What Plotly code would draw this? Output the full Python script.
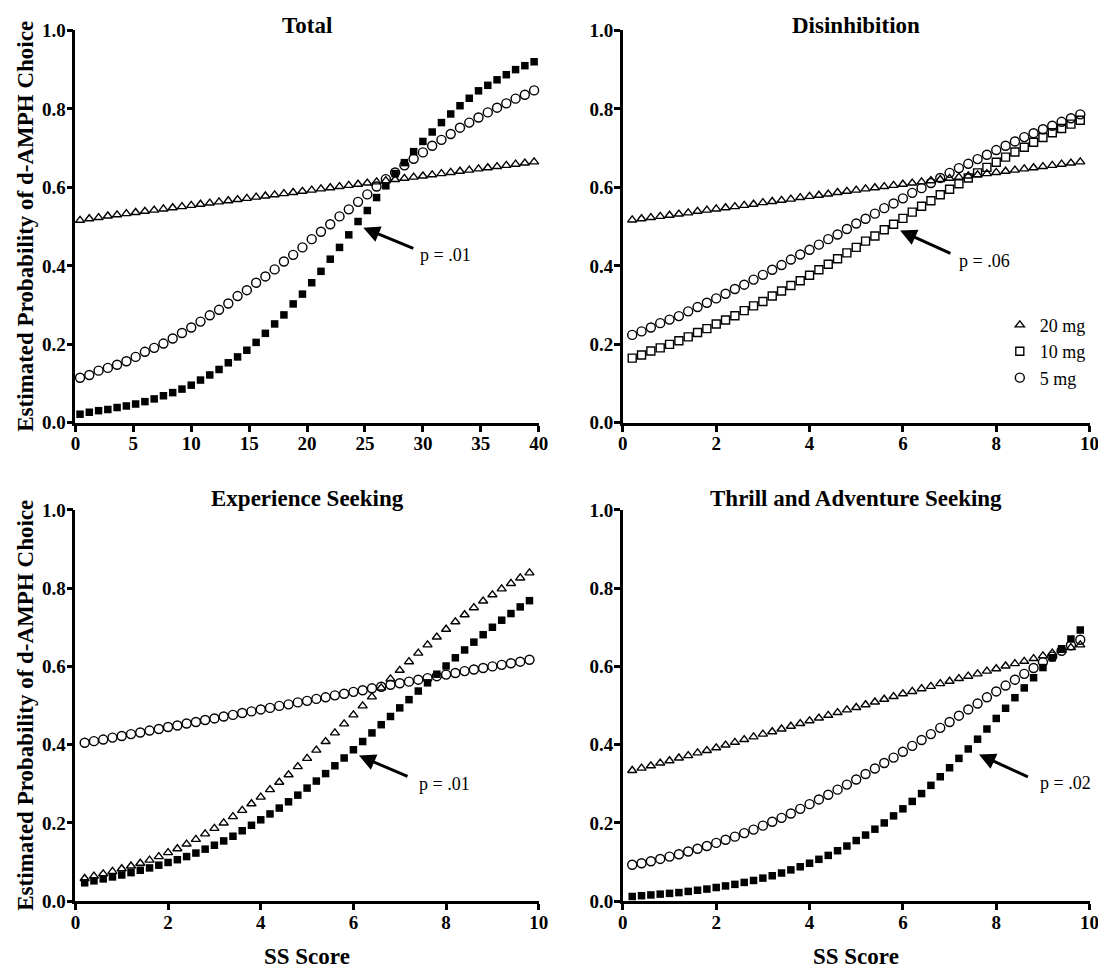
import plotly.graph_objects as go

# ---------------- data ----------------
x_total = [0.4, 1.2, 2.0, 2.8, 3.6, 4.4, 5.2, 6.0, 6.8, 7.6, 8.4, 9.2, 10.0, 10.8, 11.6, 12.4, 13.2,
           14.0, 14.8, 15.6, 16.4, 17.2, 18.0, 18.8, 19.6, 20.4, 21.2, 22.0, 22.8, 23.6, 24.4, 25.2,
           26.0, 26.8, 27.6, 28.4, 29.2, 30.0, 30.8, 31.6, 32.4, 33.2, 34.0, 34.8, 35.6, 36.4, 37.2,
           38.0, 38.8, 39.6]
total_20 = [0.516, 0.520, 0.523, 0.527, 0.530, 0.533, 0.536, 0.539, 0.542, 0.545, 0.548, 0.551, 0.554,
            0.557, 0.560, 0.563, 0.566, 0.569, 0.572, 0.575, 0.578, 0.581, 0.584, 0.587, 0.590, 0.593,
            0.596, 0.599, 0.602, 0.605, 0.608, 0.611, 0.614, 0.617, 0.620, 0.623, 0.626, 0.629, 0.632,
            0.635, 0.638, 0.641, 0.644, 0.647, 0.650, 0.653, 0.656, 0.659, 0.662, 0.665]
total_10 = [0.022, 0.027, 0.031, 0.034, 0.039, 0.043, 0.048, 0.054, 0.061, 0.069, 0.077, 0.086, 0.096,
            0.109, 0.122, 0.136, 0.153, 0.168, 0.185, 0.205, 0.228, 0.252, 0.275, 0.303, 0.328, 0.357,
            0.386, 0.417, 0.447, 0.479, 0.513, 0.541, 0.574, 0.604, 0.635, 0.663, 0.691, 0.717, 0.741,
            0.765, 0.787, 0.808, 0.827, 0.846, 0.860, 0.874, 0.887, 0.900, 0.910, 0.920]
total_5 = [0.115, 0.122, 0.133, 0.140, 0.148, 0.157, 0.168, 0.181, 0.191, 0.202, 0.215, 0.229, 0.243,
           0.258, 0.274, 0.288, 0.304, 0.323, 0.338, 0.357, 0.373, 0.391, 0.411, 0.428, 0.447, 0.468,
           0.487, 0.506, 0.526, 0.544, 0.563, 0.582, 0.602, 0.621, 0.638, 0.656, 0.673, 0.689, 0.706,
           0.721, 0.736, 0.752, 0.765, 0.778, 0.791, 0.803, 0.814, 0.826, 0.836, 0.847]

x_sub = [0.2, 0.4, 0.6, 0.8, 1.0, 1.2, 1.4, 1.6, 1.8, 2.0, 2.2, 2.4, 2.6, 2.8, 3.0, 3.2, 3.4, 3.6, 3.8,
         4.0, 4.2, 4.4, 4.6, 4.8, 5.0, 5.2, 5.4, 5.6, 5.8, 6.0, 6.2, 6.4, 6.6, 6.8, 7.0, 7.2, 7.4, 7.6,
         7.8, 8.0, 8.2, 8.4, 8.6, 8.8, 9.0, 9.2, 9.4, 9.6, 9.8]

dis_20 = [0.517, 0.520, 0.523, 0.526, 0.529, 0.532, 0.535, 0.539, 0.542, 0.545, 0.548, 0.551, 0.554,
          0.557, 0.561, 0.564, 0.567, 0.570, 0.574, 0.577, 0.580, 0.583, 0.587, 0.590, 0.593, 0.596,
          0.599, 0.602, 0.605, 0.608, 0.611, 0.614, 0.617, 0.620, 0.623, 0.626, 0.629, 0.632, 0.635,
          0.638, 0.641, 0.644, 0.647, 0.650, 0.653, 0.656, 0.659, 0.662, 0.665]
dis_10 = [0.165, 0.173, 0.183, 0.191, 0.200, 0.209, 0.219, 0.230, 0.240, 0.252, 0.262, 0.273, 0.286,
          0.298, 0.309, 0.323, 0.336, 0.350, 0.362, 0.376, 0.390, 0.404, 0.418, 0.433, 0.447, 0.463,
          0.476, 0.492, 0.506, 0.521, 0.537, 0.552, 0.566, 0.581, 0.595, 0.609, 0.624, 0.637, 0.651,
          0.664, 0.677, 0.690, 0.702, 0.715, 0.727, 0.739, 0.750, 0.761, 0.771]
dis_5 = [0.224, 0.233, 0.243, 0.254, 0.263, 0.272, 0.284, 0.295, 0.306, 0.317, 0.329, 0.341, 0.352,
         0.365, 0.377, 0.390, 0.402, 0.416, 0.429, 0.441, 0.454, 0.468, 0.480, 0.494, 0.508, 0.520,
         0.533, 0.547, 0.559, 0.572, 0.586, 0.598, 0.611, 0.624, 0.637, 0.649, 0.660, 0.672, 0.683,
         0.695, 0.706, 0.717, 0.728, 0.738, 0.748, 0.757, 0.767, 0.776, 0.786]

exp_20 = [0.058, 0.064, 0.070, 0.076, 0.083, 0.090, 0.097, 0.105, 0.114, 0.124, 0.134, 0.146, 0.158,
          0.172, 0.186, 0.200, 0.216, 0.232, 0.249, 0.266, 0.285, 0.304, 0.323, 0.344, 0.365, 0.386,
          0.408, 0.430, 0.453, 0.476, 0.499, 0.522, 0.545, 0.568, 0.590, 0.612, 0.634, 0.655, 0.675,
          0.695, 0.714, 0.732, 0.750, 0.767, 0.783, 0.798, 0.812, 0.826, 0.839]
exp_10 = [0.047, 0.052, 0.057, 0.062, 0.067, 0.073, 0.079, 0.085, 0.092, 0.099, 0.106, 0.114, 0.123,
          0.133, 0.143, 0.154, 0.166, 0.180, 0.194, 0.208, 0.223, 0.238, 0.254, 0.271, 0.289, 0.307,
          0.326, 0.346, 0.366, 0.387, 0.408, 0.430, 0.451, 0.472, 0.494, 0.515, 0.537, 0.558, 0.580,
          0.601, 0.622, 0.642, 0.662, 0.681, 0.700, 0.718, 0.735, 0.752, 0.768]
exp_5 = [0.405, 0.409, 0.413, 0.418, 0.422, 0.427, 0.431, 0.436, 0.440, 0.445, 0.449, 0.454, 0.458,
         0.463, 0.467, 0.472, 0.476, 0.481, 0.485, 0.490, 0.494, 0.499, 0.503, 0.508, 0.512, 0.517,
         0.521, 0.526, 0.530, 0.535, 0.539, 0.544, 0.548, 0.553, 0.557, 0.561, 0.566, 0.570, 0.575,
         0.579, 0.583, 0.588, 0.592, 0.596, 0.600, 0.604, 0.608, 0.612, 0.617]

tas_20 = [0.334, 0.340, 0.346, 0.353, 0.359, 0.366, 0.372, 0.379, 0.385, 0.392, 0.399, 0.406, 0.413,
          0.420, 0.427, 0.433, 0.440, 0.447, 0.454, 0.461, 0.468, 0.475, 0.482, 0.489, 0.495, 0.502,
          0.509, 0.516, 0.523, 0.530, 0.536, 0.543, 0.549, 0.556, 0.562, 0.569, 0.575, 0.581, 0.588,
          0.594, 0.601, 0.607, 0.613, 0.620, 0.627, 0.634, 0.641, 0.648, 0.655]
tas_10 = [0.012, 0.014, 0.016, 0.018, 0.020, 0.022, 0.025, 0.028, 0.031, 0.035, 0.039, 0.043, 0.048,
          0.053, 0.059, 0.065, 0.072, 0.080, 0.088, 0.097, 0.107, 0.117, 0.129, 0.141, 0.155, 0.169,
          0.184, 0.200, 0.218, 0.236, 0.255, 0.275, 0.296, 0.318, 0.341, 0.365, 0.389, 0.414, 0.440,
          0.467, 0.493, 0.520, 0.545, 0.571, 0.597, 0.622, 0.645, 0.670, 0.693]
tas_5 = [0.093, 0.097, 0.102, 0.108, 0.114, 0.120, 0.127, 0.134, 0.141, 0.149, 0.157, 0.165, 0.174,
         0.183, 0.193, 0.203, 0.213, 0.224, 0.236, 0.248, 0.260, 0.272, 0.285, 0.298, 0.311, 0.325,
         0.339, 0.353, 0.367, 0.382, 0.397, 0.412, 0.427, 0.443, 0.458, 0.474, 0.490, 0.505, 0.521,
         0.536, 0.551, 0.566, 0.581, 0.596, 0.611, 0.625, 0.640, 0.654, 0.668]

panel_titles = ["Total", "Disinhibition", "Experience Seeking", "Thrill and Adventure Seeking"]
series_names = ["20 mg", "10 mg", "5 mg"]
p_labels = ["p = .01", "p = .06", "p = .01", "p = .02"]
y_ticks = [0.0, 0.2, 0.4, 0.6, 0.8, 1.0]
y_ticktext = ["0.0", "0.2", "0.4", "0.6", "0.8", "1.0"]
x_ticks_total = [0, 5, 10, 15, 20, 25, 30, 35, 40]
x_ticks_sub = [0, 2, 4, 6, 8, 10]
# arrow head (x, y), arrow tail (x, y), label left position (x, y) per panel
arrow_head = [(24.85, 0.497), (5.94, 0.490), (6.12, 0.372), (7.63, 0.375)]
arrow_tail = [(29.3, 0.443), (7.05, 0.430), (7.20, 0.317), (8.71, 0.316)]
label_pos = [(29.6, 0.428), (7.15, 0.413), (7.37, 0.300), (8.89, 0.303)]

# ---------------- styling ----------------
W, H = 1106, 972
SERIF = "Liberation Serif"
BLACK = "#000000"

dom_x = [[0.0572, 0.4819], [0.5590, 0.9868], [0.0572, 0.4819], [0.5590, 0.9868]]
dom_y = [[0.5743, 0.9870], [0.5743, 0.9870], [0.0713, 0.4828], [0.0713, 0.4828]]

open_tri = dict(symbol="triangle-up-open", size=8, color=BLACK, line=dict(color=BLACK, width=1.4))
open_sq = dict(symbol="square-open", size=8, color=BLACK, line=dict(color=BLACK, width=1.4))
open_ci = dict(symbol="circle-open", size=9, color=BLACK, line=dict(color=BLACK, width=1.4))
fill_sq = dict(symbol="square", size=7.5, color=BLACK, line=dict(color=BLACK, width=0))

fig = go.Figure()

panels = [
    (x_total, [(total_20, open_tri, "20 mg"), (total_10, fill_sq, "10 mg"), (total_5, open_ci, "5 mg")]),
    (x_sub, [(dis_20, open_tri, "20 mg"), (dis_10, open_sq, "10 mg"), (dis_5, open_ci, "5 mg")]),
    (x_sub, [(exp_5, open_ci, "5 mg"), (exp_20, open_tri, "20 mg"), (exp_10, fill_sq, "10 mg")]),
    (x_sub, [(tas_20, open_tri, "20 mg"), (tas_10, fill_sq, "10 mg"), (tas_5, open_ci, "5 mg")]),
]

for i, (xs, series) in enumerate(panels):
    ax = "" if i == 0 else str(i + 1)
    for ys, mk, name in series:
        fig.add_trace(go.Scatter(
            x=xs, y=ys, mode="markers", name=name, marker=mk,
            xaxis="x" + ax, yaxis="y" + ax, cliponaxis=False,
            showlegend=(i == 1), legendrank={"20 mg": 1, "10 mg": 2, "5 mg": 3}[name],
        ))

tickfont = dict(family=SERIF, size=19, color=BLACK, weight="bold")
layout = dict(
    width=W, height=H, autosize=False,
    margin=dict(l=0, r=0, t=0, b=0),
    paper_bgcolor="white", plot_bgcolor="white",
    font=dict(family=SERIF, color=BLACK),
    showlegend=True,
    legend=dict(x=0.9045, y=0.6965, xanchor="left", yanchor="top",
                font=dict(family=SERIF, size=18, color=BLACK),
                bgcolor="rgba(0,0,0,0)", borderwidth=0, itemsizing="trace",
                traceorder="normal"),
)
for i in range(4):
    ax = "" if i == 0 else str(i + 1)
    xt = x_ticks_total if i == 0 else x_ticks_sub
    layout["xaxis" + ax] = dict(
        domain=dom_x[i], anchor="y" + ax, range=[0, xt[-1]],
        tickmode="array", tickvals=xt, ticktext=[str(v) for v in xt],
        showline=True, linecolor=BLACK, linewidth=2.5, mirror=False,
        ticks="outside", ticklen=6, tickwidth=2.5, tickcolor=BLACK,
        ticklabelstandoff=-4,
        showgrid=False, zeroline=False, tickfont=tickfont, fixedrange=True,
    )
    layout["yaxis" + ax] = dict(
        domain=dom_y[i], anchor="x" + ax, range=[0, 1],
        tickmode="array", tickvals=y_ticks, ticktext=y_ticktext,
        showline=True, linecolor=BLACK, linewidth=2.5, mirror=False,
        ticks="outside", ticklen=6, tickwidth=2.5, tickcolor=BLACK,
        ticklabelstandoff=-3,
        showgrid=False, zeroline=False, tickfont=tickfont, fixedrange=True,
    )
fig.update_layout(**layout)

annotations = []
title_y = [0.9925, 0.9925, 0.4945, 0.4945]
for i in range(4):
    cx = (dom_x[i][0] + dom_x[i][1]) / 2
    annotations.append(dict(
        text=panel_titles[i], x=cx, y=title_y[i], xref="paper", yref="paper",
        xanchor="center", yanchor="middle", showarrow=False,
        font=dict(family=SERIF, size=23, color=BLACK, weight="bold"),
    ))
    ax = "" if i == 0 else str(i + 1)
    annotations.append(dict(
        text="", x=arrow_head[i][0], y=arrow_head[i][1],
        ax=arrow_tail[i][0], ay=arrow_tail[i][1],
        xref="x" + ax, yref="y" + ax, axref="x" + ax, ayref="y" + ax,
        showarrow=True, arrowhead=2, arrowsize=1.1, arrowwidth=3, arrowcolor=BLACK,
        standoff=0, startstandoff=0,
    ))
    annotations.append(dict(
        text=p_labels[i], x=label_pos[i][0], y=label_pos[i][1],
        xref="x" + ax, yref="y" + ax, xanchor="left", yanchor="middle", showarrow=False,
        font=dict(family=SERIF, size=18, color=BLACK),
    ))

for yc in [(dom_y[0][0] + dom_y[0][1]) / 2, (dom_y[2][0] + dom_y[2][1]) / 2]:
    annotations.append(dict(
        text="Estimated Probability of d-AMPH Choice", x=0.0112, y=yc,
        xref="paper", yref="paper", xanchor="center", yanchor="middle",
        textangle=-90, showarrow=False,
        font=dict(family=SERIF, size=23, color=BLACK, weight="bold"),
    ))
for i in [2, 3]:
    cx = (dom_x[i][0] + dom_x[i][1]) / 2
    annotations.append(dict(
        text="SS Score", x=cx, y=0.0135, xref="paper", yref="paper",
        xanchor="center", yanchor="middle", showarrow=False,
        font=dict(family=SERIF, size=23, color=BLACK, weight="bold"),
    ))

fig.update_layout(annotations=annotations)
fig.write_html("out.html")
